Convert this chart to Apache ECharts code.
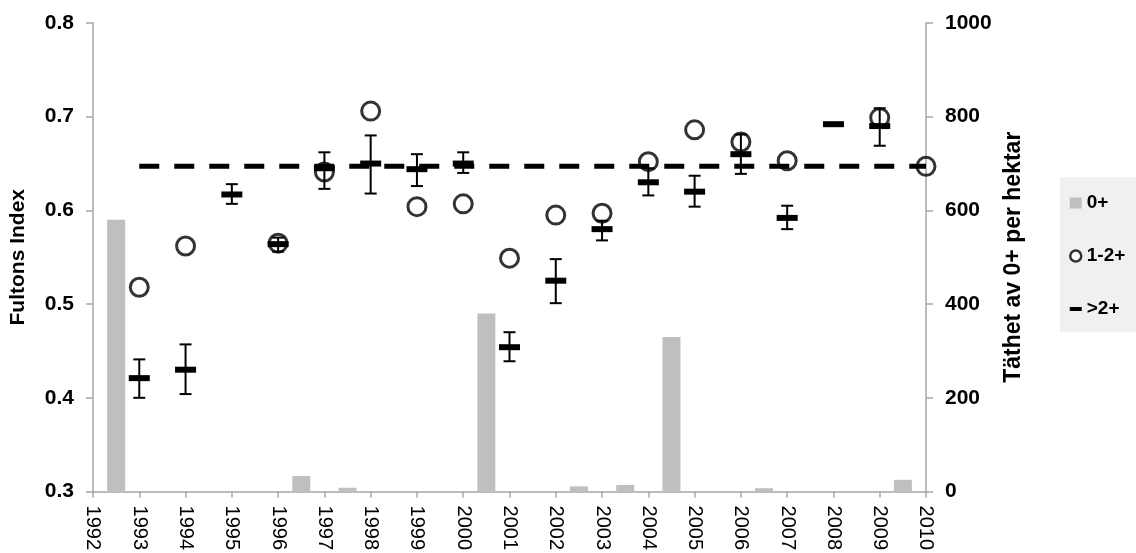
<!DOCTYPE html>
<html>
<head>
<meta charset="utf-8">
<title>Fultons Index och täthet av 0+</title>
<script src="https://cdn.jsdelivr.net/npm/echarts@6/dist/echarts.min.js"></script>
<style>
  html, body { margin: 0; padding: 0; background: #fff; }
  #chart { width: 1136px; height: 553px; }
</style>
</head>
<body>
<div id="chart"></div>
<script>
// Tick years on the horizontal axis
const years = [1992, 1993, 1994, 1995, 1996, 1997, 1998, 1999, 2000, 2001,
               2002, 2003, 2004, 2005, 2006, 2007, 2008, 2009, 2010];

// 0+ density per hectare, one bar per year interval (interval ending in the given year)
const densityYears = ['1993', '1994', '1995', '1996', '1997', '1998', '1999', '2000', '2001',
                      '2002', '2003', '2004', '2005', '2006', '2007', '2008', '2009', '2010'];
const density0 = [580, 0, 0, 0, 33, 8, 0, 0, 380, 0, 11, 14, 330, 0, 7, 0, 0, 25];

// Fultons index, 1-2+ (mean only)
const fulton12Years = [1993, 1994, 1996, 1997, 1998, 1999, 2000, 2001, 2002, 2003, 2004, 2005, 2006, 2007, 2009, 2010];
const fulton12 = [0.518, 0.562, 0.565, 0.641, 0.706, 0.604, 0.607, 0.549, 0.595, 0.597, 0.652, 0.686, 0.673, 0.653, 0.699, 0.647];

// Fultons index, >2+ (mean, lower and upper error limits)
const fulton2Years = [1993, 1994, 1995, 1996, 1997, 1998, 1999, 2000, 2001, 2002, 2003, 2004, 2005, 2006, 2007, 2008, 2009];
const fulton2Mean  = [0.421, 0.430, 0.617, 0.564, 0.645, 0.650, 0.644, 0.650, 0.454, 0.525, 0.580, 0.630, 0.620, 0.660, 0.592, 0.692, 0.690];
const fulton2Low   = [0.400, 0.404, 0.607, 0.556, 0.623, 0.618, 0.626, 0.640, 0.439, 0.501, 0.568, 0.616, 0.604, 0.639, 0.580, 0.692, 0.669];
const fulton2High  = [0.441, 0.457, 0.628, 0.571, 0.662, 0.680, 0.660, 0.662, 0.470, 0.548, 0.589, 0.645, 0.637, 0.681, 0.605, 0.692, 0.709];

// Horizontal reference level of the index
const refYears = [1993, 2010];
const refLevel = 0.647;

const FONT = '"Liberation Sans", Arial, sans-serif';
const AXIS_GRAY = '#a6a6a6';

const chart = echarts.init(document.getElementById('chart'), null, { renderer: 'canvas' });

const errorData = fulton2Years.map((y, i) => [y, fulton2Mean[i], fulton2Low[i], fulton2High[i]]);

// Draws one >2+ point: error bar with caps plus a thick horizontal dash at the mean
function renderErrorItem(params, api) {
  const x = api.value(0);
  const pm = api.coord([x, api.value(1)]);
  const pl = api.coord([x, api.value(2)]);
  const ph = api.coord([x, api.value(3)]);
  const capHalf = 6;
  const lineStyle = { stroke: '#000', lineWidth: 2 };
  const children = [];
  if (Math.abs(pl[1] - ph[1]) > 0.5) {
    children.push(
      { type: 'line', shape: { x1: pl[0], y1: pl[1], x2: ph[0], y2: ph[1] }, style: lineStyle },
      { type: 'line', shape: { x1: pl[0] - capHalf, y1: pl[1], x2: pl[0] + capHalf, y2: pl[1] }, style: lineStyle },
      { type: 'line', shape: { x1: ph[0] - capHalf, y1: ph[1], x2: ph[0] + capHalf, y2: ph[1] }, style: lineStyle }
    );
  }
  children.push({
    type: 'rect',
    shape: { x: pm[0] - 10.5, y: pm[1] - 3, width: 21, height: 6 },
    style: { fill: '#000' }
  });
  return { type: 'group', children };
}

const option = {
  animation: false,
  backgroundColor: '#fff',
  textStyle: { fontFamily: FONT },
  grid: { left: 92, right: 210, top: 23, bottom: 60, containLabel: false },
  legend: {
    orient: 'vertical',
    left: 1060,
    top: 177,
    backgroundColor: '#eff0f0',
    padding: [16.5, 11, 13.5, 9],
    itemGap: 34,
    itemWidth: 12,
    itemHeight: 11,
    textStyle: { fontFamily: FONT, fontSize: 19, fontWeight: 'bold', color: '#000', lineHeight: 19 },
    data: [
      { name: '0+', icon: 'rect', itemStyle: { color: '#bfbfbf' } },
      { name: '1-2+', icon: 'circle', itemStyle: { color: '#fff', borderColor: '#000', borderWidth: 2.5 } },
      { name: '>2+', icon: 'path://M0,0L0.01,0L0.01,0.01ZM0,3.5L12,3.5L12,7.5L0,7.5ZM11.99,10.99L12,10.99L12,11Z', itemStyle: { color: '#000' } }
    ]
  },
  xAxis: [
    {
      type: 'value',
      min: years[0],
      max: years[years.length - 1],
      interval: 1,
      axisLine: { show: true, lineStyle: { color: AXIS_GRAY, width: 1.5 } },
      axisTick: { show: true, length: 6, lineStyle: { color: AXIS_GRAY, width: 1.5 } },
      axisLabel: {
        rotate: -90,
        margin: 14,
        fontFamily: FONT,
        fontSize: 20,
        color: '#000',
        formatter: v => String(v)
      },
      splitLine: { show: false }
    },
    {
      type: 'category',
      data: densityYears,
      boundaryGap: true,
      show: false
    }
  ],
  yAxis: [
    {
      type: 'value',
      min: 0.3,
      max: 0.8,
      interval: 0.1,
      name: 'Fultons Index',
      nameLocation: 'middle',
      nameGap: 64,
      nameTextStyle: { fontFamily: FONT, fontSize: 21, fontWeight: 'bold', color: '#000' },
      axisLine: { show: true, lineStyle: { color: AXIS_GRAY, width: 1.5 } },
      axisTick: { show: true, length: 7, lineStyle: { color: AXIS_GRAY, width: 1.5 } },
      axisLabel: {
        margin: 19,
        fontFamily: FONT,
        fontSize: 21,
        fontWeight: 'bold',
        color: '#000',
        formatter: v => v.toFixed(1)
      },
      splitLine: { show: false }
    },
    {
      type: 'value',
      min: 0,
      max: 1000,
      interval: 200,
      position: 'right',
      name: 'Täthet av 0+ per hektar',
      nameLocation: 'middle',
      nameGap: 76,
      nameRotate: 90,
      nameTextStyle: { fontFamily: FONT, fontSize: 23, fontWeight: 'bold', color: '#000' },
      axisLine: { show: true, lineStyle: { color: AXIS_GRAY, width: 1.5 } },
      axisTick: { show: true, length: 7, lineStyle: { color: AXIS_GRAY, width: 1.5 } },
      axisLabel: {
        margin: 19,
        fontFamily: FONT,
        fontSize: 21,
        fontWeight: 'bold',
        color: '#000',
        formatter: v => String(v)
      },
      splitLine: { show: false }
    }
  ],
  series: [
    {
      name: '0+',
      type: 'bar',
      xAxisIndex: 1,
      yAxisIndex: 1,
      data: density0,
      barWidth: 18,
      itemStyle: { color: '#bfbfbf' },
      z: 1
    },
    {
      name: 'Referens',
      type: 'line',
      xAxisIndex: 0,
      yAxisIndex: 0,
      data: refYears.map(y => [y, refLevel]),
      symbol: 'none',
      lineStyle: { color: '#000', width: 5, type: [20, 15] },
      z: 2
    },
    {
      name: '>2+',
      type: 'custom',
      xAxisIndex: 0,
      yAxisIndex: 0,
      data: errorData,
      encode: { x: 0, y: [1, 2, 3] },
      renderItem: renderErrorItem,
      z: 3
    },
    {
      name: '1-2+',
      type: 'scatter',
      xAxisIndex: 0,
      yAxisIndex: 0,
      data: fulton12Years.map((y, i) => [y, fulton12[i]]),
      symbol: 'circle',
      symbolSize: 18,
      itemStyle: { color: 'rgba(255,255,255,0)', borderColor: '#000', borderWidth: 3 },
      z: 4
    }
  ]
};

chart.setOption(option);
</script>
</body>
</html>
